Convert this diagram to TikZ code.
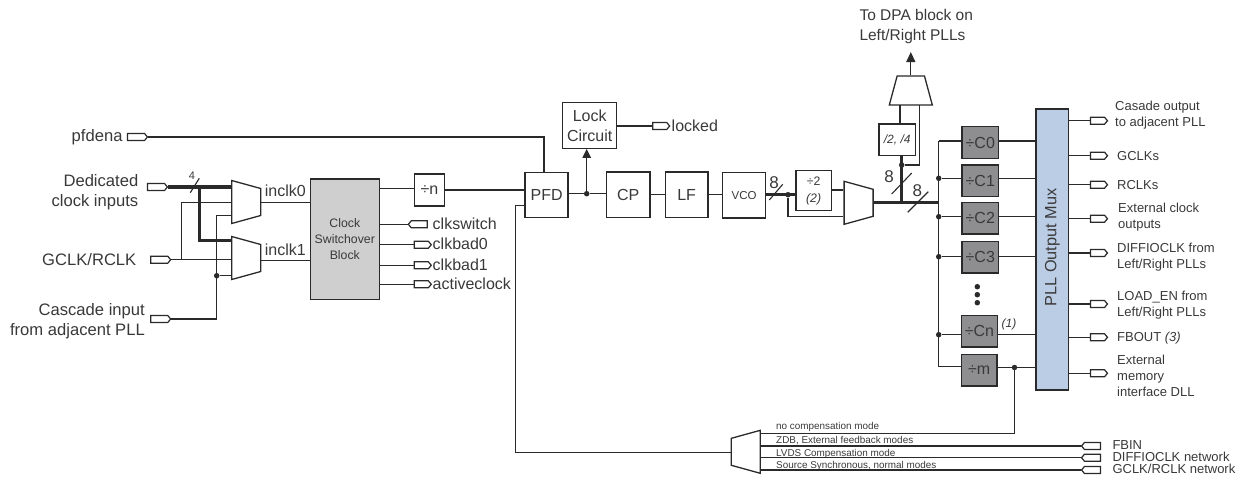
\documentclass[tikz,border=0pt]{standalone}
\usepackage{fontspec}
\setmainfont{Liberation Sans}
\usetikzlibrary{shapes.geometric,shapes.symbols,arrows.meta,calc}
\definecolor{ink}{HTML}{2B2A2B}
\definecolor{txt}{HTML}{3A393A}
\definecolor{csw}{HTML}{CFCFD0}
\definecolor{cdiv}{HTML}{8E8E90}
\definecolor{pmux}{HTML}{BBCDE4}
\tikzset{
  wire/.style={draw=ink,line width=1.3pt},
  bus/.style={draw=ink,line width=3.2pt},
  tickm/.style={draw=ink,line width=1.1pt},
  blk/.style={draw=ink,line width=1.4pt,fill=white,inner sep=0pt,align=center,text=txt,font=\fontsize{16}{20}\selectfont},
  cbox/.style={blk,fill=cdiv,minimum width=36.5pt,minimum height=31.5pt},
  dotn/.style={circle,fill=ink,draw=none,inner sep=0pt,minimum size=5.5pt},
  pinr/.style={signal,signal to=east,signal from=nowhere,signal pointer angle=100,draw=ink,line width=1.2pt,fill=white,inner sep=0pt,minimum width=17pt,minimum height=7pt},
  pinw/.style={pinr,minimum width=20pt},
  pinl/.style={signal,signal to=west,signal from=nowhere,signal pointer angle=100,draw=ink,line width=1.2pt,fill=white,inner sep=0pt,minimum width=19pt,minimum height=7pt},
  muxn/.style={trapezium,trapezium stretches=true,trapezium angle=#1,draw=ink,line width=1.3pt,fill=white,inner sep=1pt,minimum width=43pt,minimum height=29pt},
  lab/.style={inner sep=0pt,text=txt,font=\fontsize{16}{20}\selectfont},
  labr/.style={lab,anchor=east,align=right,font=\fontsize{16.6}{20}\selectfont},
  labl/.style={lab,anchor=west,align=left},
  olab/.style={inner sep=0pt,text=txt,anchor=west,align=left,font=\fontsize{13}{16.2}\selectfont},
  mlab/.style={inner sep=0pt,text=txt,anchor=west,font=\fontsize{9.9}{11}\selectfont},
  nlab/.style={inner sep=0pt,text=txt,font=\fontsize{15.5}{20}\selectfont},
  numl/.style={inner sep=0pt,text=txt,font=\fontsize{17}{20}\selectfont},
}
\begin{document}
\begin{tikzpicture}[x=1pt,y=-1pt]
\useasboundingbox (0,0) rectangle (1247,479);

% ---- blocks
\node[muxn=73.5,rotate=-90] (m1) at (246.2,202) {};
\node[muxn=73.5,rotate=-90] (m2) at (246.2,258) {};
\node[blk,fill=csw,minimum width=69pt,minimum height=120.5pt,font=\fontsize{12.3}{16.2}\selectfont] (csw) at (344.8,239.2) {Clock\\Switchover\\Block};
\node[blk,minimum width=30.5pt,minimum height=32pt] (ndiv) at (429.5,190) {÷n};
\node[blk,minimum width=43pt,minimum height=45pt] (pfd) at (546.6,195.2) {PFD};
\node[blk,minimum width=54pt,minimum height=45.5pt] (lock) at (589.7,125.5) {Lock\\Circuit};
\node[blk,minimum width=43.3pt,minimum height=45.3pt] (cp) at (628.3,194.7) {CP};
\node[blk,minimum width=42.7pt,minimum height=45.3pt] (lf) at (686.6,194.7) {LF};
\node[blk,minimum width=43pt,minimum height=45.3pt,font=\fontsize{11.5}{14}\selectfont] (vco) at (744.2,195.3) {VCO};
\node[blk,minimum width=35.3pt,minimum height=40pt,font=\fontsize{12.3}{17}\selectfont] (d2) at (813.6,190.7) {÷2\\\textit{(2)}};
\node[muxn=73.5,rotate=-90] (m3) at (858.6,202.8) {};
\node[blk,minimum width=36.3pt,minimum height=31.7pt,font=\fontsize{12}{14}\selectfont\itshape] (d24) at (897.2,139.8) {/2, /4};
\node[muxn=74] (m4) at (910.8,90.5) {};
\node[cbox] (c0) at (980.3,142.5) {÷C0};
\node[cbox] (c1) at (980.3,180.8) {÷C1};
\node[cbox] (c2) at (980.3,218.2) {÷C2};
\node[cbox] (c3) at (980.3,257.3) {÷C3};
\node[cbox,minimum width=36.4pt] (cn) at (979.5,331.3) {÷Cn};
\node[cbox,minimum width=35.7pt] (cm) at (979.2,370.2) {÷m};
\node[blk,fill=pmux,minimum width=32.7pt,minimum height=281pt] (pll) at (1052.3,249.5) {};
\node[inner sep=0pt,text=txt,rotate=90,font=\fontsize{16.3}{20}\selectfont] (plllab) at (1052.3,247.5) {PLL Output Mux};
\node[muxn=73.5,rotate=90] (m5) at (745.8,451.8) {};

% ---- dots
\node[dotn] (dcas) at (216.7,275.7) {};
\node[dotn] (dpfd) at (586.7,193.7) {};
\node[dotn] (dvco) at (788,194.7) {};
\node[dotn] (ddpa) at (901.7,165) {};
\node[dotn] (dc1) at (938.7,178.3) {};
\node[dotn] (dc2) at (938.7,216.7) {};
\node[dotn] (dc3) at (938.7,256.7) {};
\node[dotn] (dcn) at (938.7,334.7) {};
\node[dotn] (dm) at (1014.5,367.5) {};
\node[dotn] (e1) at (977.3,286.7) {};
\node[dotn] (e2) at (977.3,294.7) {};
\node[dotn] (e3) at (977.3,302.7) {};

% ---- pins and their labels
\node[pinw] (ppfd) at (136,137) {};
\node[pinw] (pded) at (156,187) {};
\node[pinw] (pgclk) at (159.2,259.7) {};
\node[pinw] (pcas) at (159.2,319) {};
\node[pinl] (psw) at (419.3,224.3) {};
\node[pinr] (pb0) at (421.3,244.7) {};
\node[pinr] (pb1) at (421.3,265.3) {};
\node[pinr] (pac) at (421.3,284.3) {};
\node[pinr] (plk) at (659.7,126) {};
\node[pinr] (o1) at (1097.5,120.7) {};
\node[pinr] (o2) at (1097.5,155.7) {};
\node[pinr] (o3) at (1097.5,184.7) {};
\node[pinr] (o4) at (1097.5,218.7) {};
\node[pinr] (o5) at (1097.5,253) {};
\node[pinr] (o6) at (1097.5,304) {};
\node[pinr] (o7) at (1097.5,337.3) {};
\node[pinr] (o8) at (1097.5,373.3) {};
\node[pinl] (fb1) at (1092.5,446) {};
\node[pinl] (fb2) at (1092.5,457.7) {};
\node[pinl] (fb3) at (1092.5,470) {};

\node[labr] (tpf) at (122.7,137) {pfdena};
\node[labr] (tded) at (138.5,192.7) {Dedicated\\clock inputs};
\node[labr] (tgc) at (136.5,260) {GCLK/RCLK};
\node[labr] (tcas) at (145,321) {Cascade input\\from adjacent PLL};
\node[labl] (ti0) at (264.7,190.5) {inclk0};
\node[labl] (ti1) at (264.7,250) {inclk1};
\node[labl] (tsw) at (432.5,223.5) {clkswitch};
\node[labl] (tb0) at (432.5,244) {clkbad0};
\node[labl] (tb1) at (432.5,265) {clkbad1};
\node[labl] (tac) at (432.5,283.5) {activeclock};
\node[labl] (tlk) at (671.5,125.5) {locked};
\node[nlab,anchor=west,align=left] (tdpa) at (859.3,26.5) {To DPA block on\\Left/Right PLLs};
\node[olab] (to1) at (1115,115.5) {Casade output\\to adjacent PLL};
\node[olab] (to2) at (1117,155.7) {GCLKs};
\node[olab] (to3) at (1117,184.7) {RCLKs};
\node[olab] (to4) at (1118,217.5) {External clock\\outputs};
\node[olab] (to5) at (1117,257.5) {DIFFIOCLK from\\Left/Right PLLs};
\node[olab] (to6) at (1117,305.3) {LOAD\_EN from\\Left/Right PLLs};
\node[olab] (to7) at (1117,338.3) {FBOUT \textit{(3)}};
\node[olab] (to8) at (1117,375.6) {External\\memory\\interface DLL};
\node[olab] (tf1) at (1112.3,445) {FBIN};
\node[olab] (tf2) at (1112.3,456.7) {DIFFIOCLK network};
\node[olab] (tf3) at (1112.3,469.3) {GCLK/RCLK network};
\node[mlab] (tm1) at (776,426.7) {no compensation mode};
\node[mlab] (tm2) at (776,440.3) {ZDB, External feedback modes};
\node[mlab] (tm3) at (776,453.7) {LVDS Compensation mode};
\node[mlab] (tm4) at (776,465.7) {Source Synchronous, normal modes};
\node[inner sep=0pt,text=txt,font=\fontsize{11}{12}\selectfont] (t4) at (192,175.5) {4};
\node[numl] (t81) at (774,182.5) {8};
\node[numl] (t82) at (889,176.7) {8};
\node[numl] (t83) at (917.3,191) {8};
\node[inner sep=0pt,text=txt,font=\fontsize{12}{14}\selectfont\itshape] (tn1) at (1009,324) {(1)};

% ---- helper coordinates for connector offsets
\coordinate (fbtop) at (515.3,205.3);
\coordinate (fbbot) at (515.3,452.3);
\coordinate (vbus) at (938.7,202.3);
\coordinate (vtop) at (938.7,141);
\coordinate (vbot) at (938.7,366.7);

% ---- connectors
\draw[wire] (ppfd.east) -- (544,137) -- (544,172.7);
\draw[bus] (pded.east) -- (pded.east -| m1.south);
\draw[bus] (199.3,187) -- (199.3,240.7) -- (231.7,240.7);
\draw[wire] (pgclk.east) -- (pgclk.east -| m2.south);
\draw[wire] (181.3,259.7) -- (181.3,202.3) -- (231.7,202.3);
\draw[wire] (pcas.east) -- (pcas.east -| dcas) -- (dcas.center) -- (216.7,215.7) -- (231.7,215.7);
\draw[wire] (dcas) -- (dcas -| m2.south);
\draw[wire] (m1.north |- 0,202.7) -- (csw.west |- 0,202.7);
\draw[wire] (m2.north |- 0,260.7) -- (csw.west |- 0,260.7);
\draw[wire] ($(csw.east |- ndiv.west)+(0,-1.3)$) -- ($(ndiv.west)+(0,-1.3)$);
\draw[wire] (ndiv.east) -- (pfd.west |- ndiv.east);
\draw[wire] (csw.east |- psw.west) -- (psw.west);
\draw[wire] (csw.east |- pb0.west) -- (pb0.west);
\draw[wire] (csw.east |- pb1.west) -- (pb1.west);
\draw[wire] (csw.east |- pac.west) -- (pac.west);
\draw[wire] (pfd.east |- dpfd) -- (dpfd) -- (cp.west |- dpfd);
\draw[wire,-{Triangle[length=9pt,width=8.5pt]}] (dpfd) -- (dpfd |- lock.south);
\draw[wire] (lock.east |- plk.west) -- (plk.west);
\draw[wire] (cp.east) -- (lf.west);
\draw[wire] (lf.east) -- (vco.west |- lf.east);
\draw[bus] (vco.east |- dvco) -- (d2.west |- dvco);
\draw[wire] (dvco) -- (788,216.3) -- (m3.south |- 0,216.3);
\draw[wire] (d2.east |- 0,190) -- (m3.south |- 0,190);
\draw[bus] (m3.north |- vbus) -- (vbus);
\draw[bus] (901.7,202.3) -- (901.7,155.7);
\draw[wire] (ddpa) -- (919.7,165) -- (919.7,105);
\draw[wire] (900,124) -- (900,105);
\draw[wire,-{Triangle[length=10pt,width=9pt]}] (m4.north) -- (910.8,52);
\draw[wire] (vtop) -- (vbot);
\draw[wire] (vtop) -- (c0.west |- vtop);
\draw[wire] (dc1) -- (c1.west |- dc1);
\draw[wire] (dc2) -- (c2.west |- dc2);
\draw[wire] (dc3) -- (c3.west |- dc3);
\draw[wire] (dcn) -- (cn.west |- dcn);
\draw[wire] (vbot) -- (cm.west |- vbot);
\draw[wire] (c0.east |- vtop) -- (pll.west |- vtop);
\draw[wire] (c1.east |- dc1) -- (pll.west |- dc1);
\draw[wire] (c2.east |- dc2) -- (pll.west |- dc2);
\draw[wire] (c3.east |- dc3) -- (pll.west |- dc3);
\draw[wire] (cn.east |- dcn) -- (pll.west |- dcn);
\draw[wire] (cm.east |- dm) -- (pll.west |- dm);
\draw[wire] (dm) -- (1014.5,433.3) -- (m5.south |- 0,433.3);
\foreach \p in {o1,o2,o3,o4,o5,o6,o7,o8} \draw[wire] (pll.east |- \p.west) -- (\p.west);
\draw[wire] (m5.south |- fb1.west) -- (fb1.west);
\draw[wire] (m5.south |- fb2.west) -- (fb2.west);
\draw[wire] (m5.south |- fb3.west) -- (fb3.west);
\draw[wire] (fbtop -| pfd.west) -- (fbtop) -- (fbbot) -- (fbbot -| m5.north);

% ---- bus ticks
\draw[tickm] (190.3,192.7) -- (199.3,178.3);
\draw[tickm] (769.3,200) -- (782.7,184.3);
\draw[tickm] (891.7,194) -- (911.7,173);
\draw[tickm] (907.7,212.3) -- (928.3,191.7);
\end{tikzpicture}
\end{document}
